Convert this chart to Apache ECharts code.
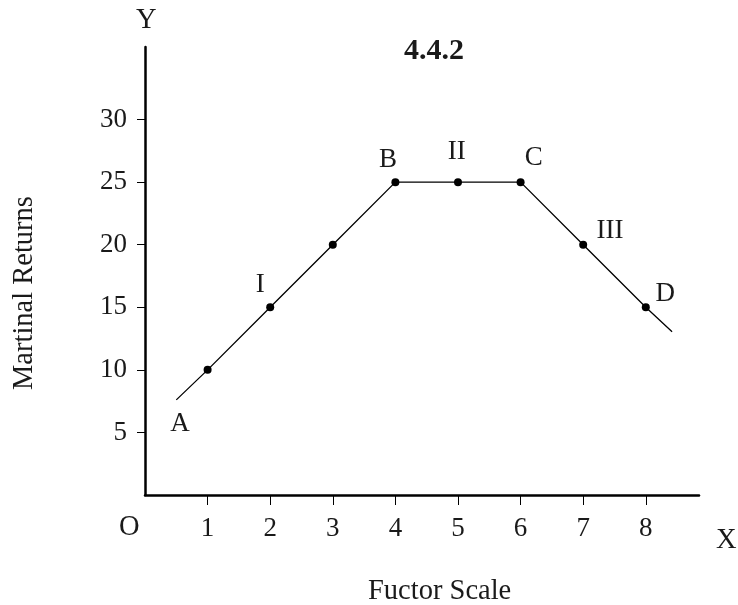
<!DOCTYPE html>
<html>
<head>
<meta charset="utf-8">
<script src="https://cdn.jsdelivr.net/npm/echarts@6/dist/echarts.min.js"></script>
<style>html,body{margin:0;padding:0;background:#fff}#c{width:738px;height:605px}</style>
</head>
<body>
<div id="c"></div>
<script>
var xTicks = [1, 2, 3, 4, 5, 6, 7, 8];
var yTicks = [5, 10, 15, 20, 25, 30];
var curveX = [0.5, 1, 2, 3, 4, 5, 6, 7, 8, 8.42];
var curveY = [7.6, 10, 15, 20, 25, 25, 25, 20, 15, 13.05];
var markedX = [1, 2, 3, 4, 5, 6, 7, 8];
var labelText = ['A', 'I', 'B', 'II', 'C', 'III', 'D'];
var labelX = [0.56, 1.84, 3.88, 4.98, 6.21, 7.43, 8.31];
var labelY = [5.67, 16.8, 26.75, 27.4, 26.9, 21.1, 16.1];

var FONT = 'Liberation Serif';
var FS = 26;
var NFS = 28.5;
var TXT = '#1a1a1a';

var lineData = curveX.map(function (x, i) {
  var d = { value: [x, curveY[i]] };
  if (markedX.indexOf(x) < 0) { d.symbol = 'none'; }
  return d;
});
var labelData = labelText.map(function (t, i) {
  return { value: [labelX[i], labelY[i]], name: t };
});

var chart = echarts.init(document.getElementById('c'));
chart.setOption({
  animation: false,
  backgroundColor: '#fff',
  title: {
    text: '4.4.2', left: 429, top: 31, textAlign: 'center',
    textStyle: { fontFamily: FONT, fontSize: 30, fontWeight: 'bold', color: TXT }
  },
  grid: { left: 145, top: 47, width: 554, height: 448, containLabel: false },
  xAxis: {
    type: 'value', min: 0, max: 8.85,
    axisLine: { show: true, lineStyle: { color: '#000', width: 2.5 } },
    axisTick: { show: true, length: 10, customValues: xTicks, lineStyle: { color: '#000', width: 1 } },
    axisLabel: { customValues: xTicks, margin: 20, fontFamily: FONT, fontSize: 27, color: TXT },
    splitLine: { show: false }
  },
  yAxis: {
    type: 'value', min: 0, max: 35.8,
    axisLine: { show: true, lineStyle: { color: '#000', width: 2.5 } },
    axisTick: { show: true, length: 8, customValues: yTicks, lineStyle: { color: '#000', width: 1 } },
    axisLabel: { customValues: yTicks, margin: 18, fontFamily: FONT, fontSize: 27, color: TXT },
    splitLine: { show: false }
  },
  graphic: [
    { type: 'text', left: 136, top: 6, style: { text: 'Y', font: NFS + 'px "' + FONT + '"', fill: TXT } },
    { type: 'text', left: 716, top: 526, style: { text: 'X', font: NFS + 'px "' + FONT + '"', fill: TXT } },
    { type: 'text', left: 119, top: 513, style: { text: 'O', font: NFS + 'px "' + FONT + '"', fill: TXT } },
    { type: 'text', left: 368, top: 577, style: { text: 'Fuctor Scale', font: NFS + 'px "' + FONT + '"', fill: TXT } },
    { type: 'text', x: 10, y: 390, rotation: Math.PI / 2, style: { text: 'Martinal Returns', font: NFS + 'px "' + FONT + '"', fill: TXT, textVerticalAlign: 'top' } }
  ],
  series: [
    {
      type: 'line', data: lineData, symbol: 'circle', symbolSize: 8,
      lineStyle: { color: '#000', width: 1.3 }, itemStyle: { color: '#000' }, z: 3
    },
    {
      type: 'scatter', data: labelData, symbolSize: 0, clip: false,
      itemStyle: { opacity: 1 },
      label: { show: true, position: 'inside', formatter: '{b}', fontFamily: FONT, fontSize: 27, color: TXT, opacity: 1 }
    }
  ]
});
</script>
</body>
</html>
